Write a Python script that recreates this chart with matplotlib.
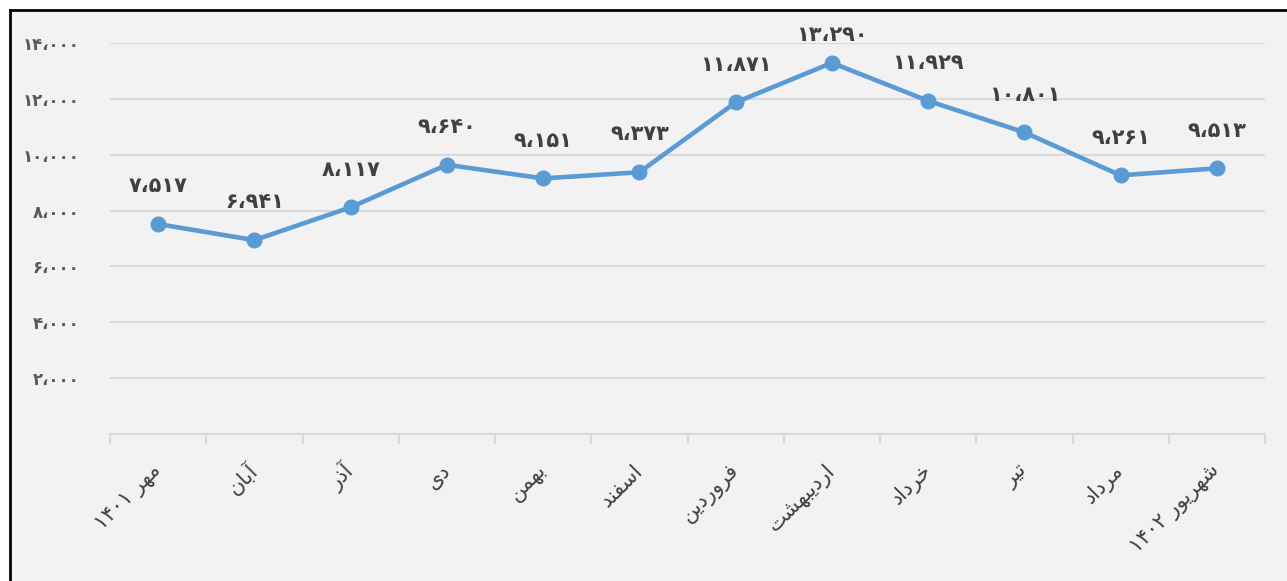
import matplotlib
matplotlib.use("Agg")
import matplotlib.pyplot as plt
from matplotlib.lines import Line2D
from matplotlib.patches import Rectangle
from matplotlib.ticker import FixedLocator

plt.rcParams['font.family'] = ['DejaVu Sans']

months = ["مهر ۱۴۰۱", "آبان", "آذر", "دی", "بهمن", "اسفند", "فروردین",
          "اردیبهشت", "خرداد", "تیر", "مرداد", "شهریور ۱۴۰۲"]
values = [7517, 6941, 8117, 9640, 9151, 9373, 11871, 13290, 11929, 10801, 9261, 9513]
yticks = [2000, 4000, 6000, 8000, 10000, 12000, 14000]

# presentation forms: (isolated, final, initial, medial); None = no forward join
FORMS = {
    "ا": ("\uFE8D", "\uFE8E", None, None),
    "آ": ("\uFE81", "\uFE82", None, None),
    "ب": ("\uFE8F", "\uFE90", "\uFE91", "\uFE92"),
    "ت": ("\uFE95", "\uFE96", "\uFE97", "\uFE98"),
    "خ": ("\uFEA5", "\uFEA6", "\uFEA7", "\uFEA8"),
    "د": ("\uFEA9", "\uFEAA", None, None),
    "ذ": ("\uFEAB", "\uFEAC", None, None),
    "ر": ("\uFEAD", "\uFEAE", None, None),
    "س": ("\uFEB1", "\uFEB2", "\uFEB3", "\uFEB4"),
    "ش": ("\uFEB5", "\uFEB6", "\uFEB7", "\uFEB8"),
    "ف": ("\uFED1", "\uFED2", "\uFED3", "\uFED4"),
    "م": ("\uFEE1", "\uFEE2", "\uFEE3", "\uFEE4"),
    "ن": ("\uFEE5", "\uFEE6", "\uFEE7", "\uFEE8"),
    "ه": ("\uFEE9", "\uFEEA", "\uFEEB", "\uFEEC"),
    "و": ("\uFEED", "\uFEEE", None, None),
    "ی": ("\uFBFC", "\uFBFD", "\uFBFE", "\uFBFF"),
}


def shape_word(w):
    out = []
    for i, ch in enumerate(w):
        if ch not in FORMS:
            out.append(ch)
            continue
        prev = w[i - 1] if i > 0 else None
        nxt = w[i + 1] if i + 1 < len(w) else None
        joins_prev = prev in FORMS and FORMS[prev][2] is not None
        joins_next = nxt in FORMS and FORMS[ch][2] is not None
        iso, fin, ini, med = FORMS[ch]
        if joins_prev and joins_next:
            out.append(med)
        elif joins_prev:
            out.append(fin)
        elif joins_next:
            out.append(ini)
        else:
            out.append(iso)
    return "".join(reversed(out))


def visual(label):
    # RTL words are shaped and reversed, digit runs stay as they are
    toks = []
    for t in label.split(" "):
        if all("\u06F0" <= c <= "\u06F9" for c in t):
            toks.append(t)
        else:
            toks.append(shape_word(t))
    return " ".join(reversed(toks))


def fa_num(v):
    s = f"{v:,}"
    return s.translate(str.maketrans("0123456789,", "۰۱۲۳۴۵۶۷۸۹،"))


fig = plt.figure(figsize=(12.87, 5.81), dpi=100)
fig.patch.set_facecolor("white")
fig.add_artist(Rectangle((10 / 1287, 0), 1, 1 - 10 / 581, transform=fig.transFigure,
                         facecolor="#f2f2f2", edgecolor="none", zorder=-10))
fig.add_artist(Line2D([10 / 1287, 10 / 1287], [0, 1 - 10 / 581], color="black", lw=2,
                      transform=fig.transFigure))
fig.add_artist(Line2D([10 / 1287, 1], [1 - 10 / 581, 1 - 10 / 581], color="black", lw=2,
                      transform=fig.transFigure))

ax = fig.add_axes([110 / 1287, 1 - 434 / 581, (1265 - 110) / 1287, (434 - 43) / 581])
ax.set_facecolor("none")

x = list(range(len(values)))
ax.plot(x, values, color="#5b9bd5", lw=3.3, marker="o", markersize=10.5, zorder=3,
        solid_capstyle="round")
for xi, v in zip(x, values):
    # labels near the top are pushed down to stay inside the chart
    off = 13 if v > 13000 else 20
    ax.annotate(fa_num(v), (xi, v), xytext=(0, off), textcoords="offset points",
                ha="center", va="bottom", fontsize=15, fontweight="bold", color="#404040")

ax.set_xlim(-0.5, len(values) - 0.5)
ax.set_ylim(0, 14000)
ax.set_yticks(yticks)
ax.set_yticklabels([fa_num(v) for v in yticks], fontsize=12, fontweight="bold",
                   color="#595959")
ax.tick_params(axis="y", length=0, pad=22)
ax.grid(axis="y", color="#d9d9d9", lw=1.5)
ax.set_axisbelow(True)

ax.set_xticks(x)
ax.set_xticklabels([visual(m) for m in months], rotation=45, ha="right", va="center",
                   rotation_mode="anchor", fontsize=15, color="#404040")
ax.tick_params(axis="x", which="major", length=0, pad=24)
ax.xaxis.set_minor_locator(FixedLocator([i - 0.5 for i in range(len(values) + 1)]))
ax.tick_params(axis="x", which="minor", length=7, width=1.5, color="#d9d9d9")

for side in ["left", "right", "top"]:
    ax.spines[side].set_visible(False)
ax.spines["bottom"].set_color("#d9d9d9")
ax.spines["bottom"].set_linewidth(1.5)

fig.savefig("out.png", dpi=100)
